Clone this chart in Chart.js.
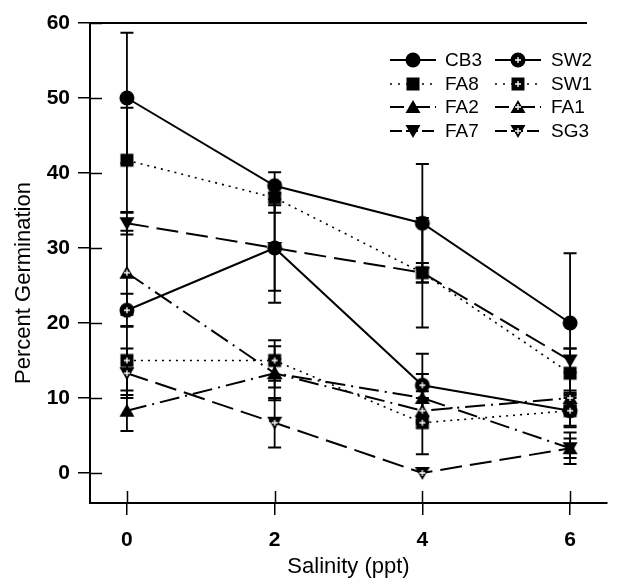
<!DOCTYPE html>
<html>
<head>
<meta charset="utf-8">
<script src="https://cdn.jsdelivr.net/npm/chart.js@4.4.0/dist/chart.umd.min.js"></script>
<style>
  html, body { margin: 0; padding: 0; background: #fff; }
  #wrap { width: 617px; height: 580px; }
</style>
</head>
<body>
<div id="wrap"><canvas id="germChart" width="617" height="580"></canvas></div>
<script>
// ---- data ----
const salinity = [0, 2, 4, 6];
const xTicks = [0, 2, 4, 6];
const yTicks = [0, 10, 20, 30, 40, 50, 60];

const cb3 = [50, 38.3, 33.3, 20];
const cb3Err = [8.7, 1.8, 7.9, 9.3];
const fa8 = [41.7, 36.7, 26.7, 13.3];
const fa8Err = [7.0, 2.0, 1.3, 3.3];
const fa2 = [8.3, 13.3, 10, 3.3];
const fa2Err = [2.7, 1.9, 3.2, 1.3];
const fa7 = [33.3, 30, 26.7, 15];
const fa7Err = [1.5, 5.7, 7.3, 1.6];
const sw2 = [21.7, 30, 11.7, 8.3];
const sw2Err = [2.2, 7.3, 4.2, 2.2];
const sw1 = [15, 15, 6.7, 8.3];
const sw1Err = [4.6, 2.7, 4.2, 2.0];
const fa1 = [26.7, 13.3, 8.3, 10];
const fa1Err = [5.6, 3.6, 1.7, 1.0];
const sg3 = [13.3, 6.7, 0, 3.3];
const sg3Err = [3.3, 3.3, 0, 2.1];

// legend order: two columns
const legendCol1 = ['CB3', 'FA8', 'FA2', 'FA7'];
const legendCol2 = ['SW2', 'SW1', 'FA1', 'SG3'];

const xTitle = 'Salinity (ppt)';
const yTitle = 'Percent Germination';

// ---- styles ----
const FONT = "'Liberation Sans', Arial, Helvetica, sans-serif";
const DASH = {
  solid: [],
  dot: [2, 5],
  dashdot: [20, 6, 2, 6],
  dash: [22, 8]
};

function makeMarker(shape, open) {
  const s = 20, m = s / 2;
  const c = document.createElement('canvas');
  c.width = s; c.height = s;
  const g = c.getContext('2d');
  g.fillStyle = '#000';
  g.beginPath();
  if (shape === 'circle') g.arc(m, m, 7.5, 0, Math.PI * 2);
  else if (shape === 'square') g.rect(m - 6.5, m - 6.5, 13, 13);
  else if (shape === 'up') { g.moveTo(m, m - 7); g.lineTo(m + 7.5, m + 6); g.lineTo(m - 7.5, m + 6); g.closePath(); }
  else { g.moveTo(m, m + 7); g.lineTo(m + 7.5, m - 6); g.lineTo(m - 7.5, m - 6); g.closePath(); }
  g.fill();
  if (open) {
    g.strokeStyle = '#fff';
    g.lineWidth = 1.3;
    g.beginPath();
    g.moveTo(m - 3, m); g.lineTo(m + 3, m);
    g.moveTo(m, m - 3); g.lineTo(m, m + 3);
    g.stroke();
  }
  return c;
}

const series = [
  { label: 'CB3', data: cb3, err: cb3Err, shape: 'circle', open: false, dash: 'solid' },
  { label: 'FA8', data: fa8, err: fa8Err, shape: 'square', open: false, dash: 'dot' },
  { label: 'FA2', data: fa2, err: fa2Err, shape: 'up', open: false, dash: 'dashdot' },
  { label: 'FA7', data: fa7, err: fa7Err, shape: 'down', open: false, dash: 'dash' },
  { label: 'SW2', data: sw2, err: sw2Err, shape: 'circle', open: true, dash: 'solid' },
  { label: 'SW1', data: sw1, err: sw1Err, shape: 'square', open: true, dash: 'dot' },
  { label: 'FA1', data: fa1, err: fa1Err, shape: 'up', open: true, dash: 'dashdot' },
  { label: 'SG3', data: sg3, err: sg3Err, shape: 'down', open: true, dash: 'dash' }
];
series.forEach(s => { s.marker = makeMarker(s.shape, s.open); });

// ---- plugins ----
const errorBars = {
  id: 'errorBars',
  beforeDatasetsDraw(chart) {
    const { ctx, scales: { x, y } } = chart;
    ctx.save();
    ctx.strokeStyle = '#000';
    ctx.lineWidth = 1.8;
    series.forEach(s => {
      s.data.forEach((v, i) => {
        const e = s.err[i];
        if (!e) return;
        const px = x.getPixelForValue(salinity[i]);
        const top = y.getPixelForValue(v + e);
        const bot = y.getPixelForValue(v - e);
        ctx.beginPath();
        ctx.moveTo(px, top); ctx.lineTo(px, bot);
        ctx.moveTo(px - 6.5, top); ctx.lineTo(px + 6.5, top);
        ctx.moveTo(px - 6.5, bot); ctx.lineTo(px + 6.5, bot);
        ctx.stroke();
      });
    });
    ctx.restore();
  }
};

const frame = {
  id: 'frame',
  afterDraw(chart) {
    const { ctx, chartArea: a, scales: { x, y } } = chart;
    ctx.save();
    ctx.strokeStyle = '#000';
    ctx.lineWidth = 2;
    ctx.beginPath();
    ctx.moveTo(a.left - 1, a.top); ctx.lineTo(a.right - 20, a.top);
    ctx.stroke();
    ctx.lineWidth = 1.5;
    ctx.beginPath();
    yTicks.forEach(v => {
      const py = Math.round(y.getPixelForValue(v)) + 0.5;
      ctx.moveTo(a.left, py); ctx.lineTo(a.left + 12, py);
    });
    xTicks.forEach(v => {
      const px = Math.round(x.getPixelForValue(v)) + 0.5;
      ctx.moveTo(px, a.bottom); ctx.lineTo(px, a.bottom - 12);
    });
    ctx.stroke();
    // y axis title, centred a little below the axis middle as in the original
    ctx.fillStyle = '#000';
    ctx.font = '22px ' + FONT;
    ctx.textAlign = 'center';
    ctx.textBaseline = 'middle';
    ctx.translate(24, 283);
    ctx.rotate(-Math.PI / 2);
    ctx.fillText(yTitle, 0, 0);
    ctx.restore();
  }
};

const legendBox = {
  id: 'legendBox',
  afterDraw(chart) {
    const { ctx } = chart;
    const rows = [60, 84, 107, 131];
    const cols = [{ mx: 413, tx: 445 }, { mx: 518, tx: 551 }];
    ctx.save();
    ctx.font = '19px ' + FONT;
    ctx.fillStyle = '#000';
    ctx.textBaseline = 'middle';
    [legendCol1, legendCol2].forEach((names, ci) => {
      names.forEach((name, ri) => {
        const s = series.find(d => d.label === name);
        const cx = cols[ci].mx, cy = rows[ri];
        ctx.strokeStyle = '#000';
        ctx.lineWidth = s.dash === 'dot' ? 1.5 : 2;
        ctx.setLineDash(s.dash === 'dot' ? [2, 6] : s.dash === 'dashdot' ? [14, 5, 2, 5] : s.dash === 'dash' ? [12, 4] : []);
        ctx.beginPath();
        ctx.moveTo(cx - 23, cy); ctx.lineTo(cx + 23, cy);
        ctx.stroke();
        ctx.setLineDash([]);
        ctx.drawImage(s.marker, cx - s.marker.width / 2, cy - s.marker.height / 2);
        ctx.fillText(name, cols[ci].tx, cy + 1);
      });
    });
    ctx.restore();
  }
};

// ---- chart ----
const tickFont = { family: FONT, size: 21, weight: 'bold' };
const titleFont = { family: FONT, size: 22 };

new Chart(document.getElementById('germChart'), {
  type: 'line',
  data: {
    datasets: series.map(s => ({
      label: s.label,
      data: s.data.map((v, i) => ({ x: salinity[i], y: v })),
      borderColor: '#000',
      borderWidth: s.dash === 'dot' ? 1.6 : 2,
      borderDash: DASH[s.dash],
      backgroundColor: '#000',
      pointStyle: s.marker,
      pointRadius: 8,
      tension: 0,
      fill: false
    }))
  },
  options: {
    responsive: false,
    animation: false,
    devicePixelRatio: 1,
    layout: { padding: { top: 23, right: 0, left: 0, bottom: 0 } },
    plugins: { legend: { display: false }, tooltip: { enabled: false } },
    scales: {
      x: {
        type: 'linear',
        min: -0.5,
        max: 6.5,
        afterBuildTicks: axis => { axis.ticks = xTicks.map(v => ({ value: v })); },
        afterFit: axis => { axis.height = 77; },
        grid: { drawOnChartArea: false, drawTicks: true, tickLength: 12, color: '#000', lineWidth: 1.5 },
        border: { color: '#000', width: 2 },
        ticks: { font: tickFont, color: '#000', padding: 13, maxRotation: 0, autoSkip: false },
        title: { display: true, text: xTitle, font: titleFont, color: '#000', padding: { top: 0, bottom: 0 } }
      },
      y: {
        min: -4,
        max: 60,
        afterBuildTicks: axis => { axis.ticks = yTicks.map(v => ({ value: v })); },
        afterFit: axis => { axis.width = 90; },
        grid: { drawOnChartArea: false, drawTicks: true, tickLength: 12, color: '#000', lineWidth: 1.5 },
        border: { color: '#000', width: 2 },
        ticks: { font: tickFont, color: '#000', padding: 8 },
        title: { display: false }
      }
    }
  },
  plugins: [errorBars, frame, legendBox]
});
</script>
</body>
</html>
